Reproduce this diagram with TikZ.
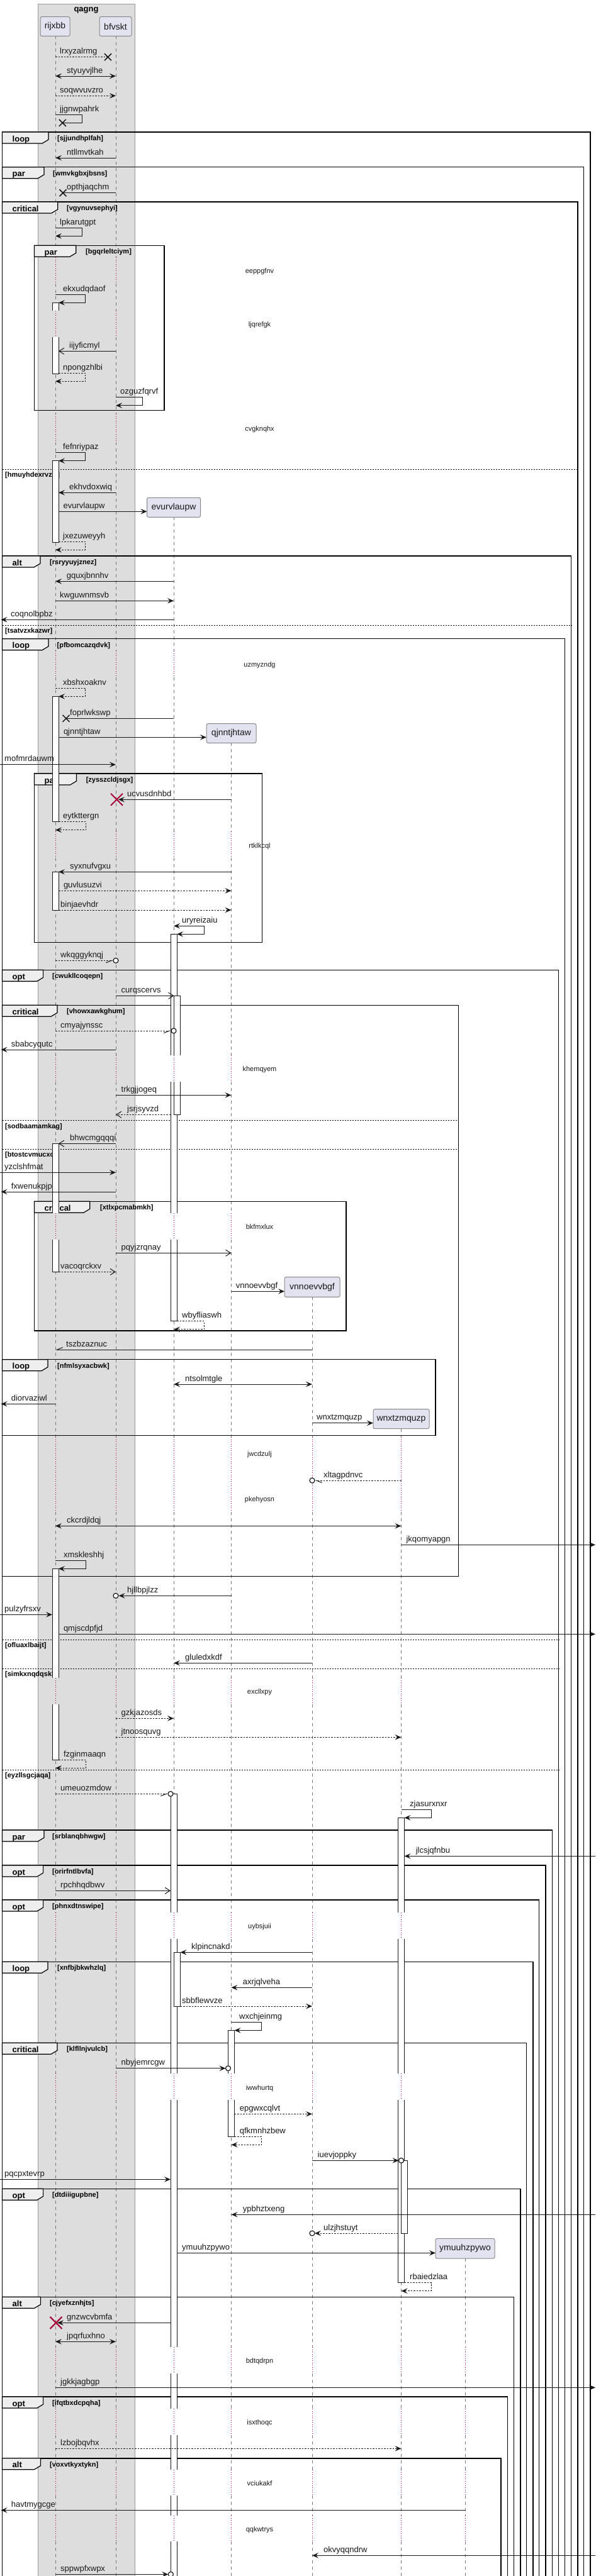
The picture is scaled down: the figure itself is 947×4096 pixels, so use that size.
\documentclass[tikz,border=0pt]{standalone}
\usepackage{fontspec}
\setmainfont{Liberation Sans}
\usetikzlibrary{arrows.meta}
\definecolor{llc}{HTML}{777777}
\definecolor{dred}{HTML}{A80036}
\definecolor{pfill}{HTML}{E2E2F0}
\definecolor{pdraw}{HTML}{888888}
\definecolor{gfill}{HTML}{DDDDDD}
\definecolor{gdraw}{HTML}{999999}
\definecolor{tfill}{HTML}{EEEEEE}
\definecolor{ink}{HTML}{181818}
\newcommand\fsz[1]{\fontsize{#1}{#1}\selectfont}
\newcounter{mc}
\tikzset{
 lifel/.style={draw=llc, line width=0.8pt, dash pattern=on 5pt off 5pt},
 delayl/.style={draw=dred, line width=0.9pt, dash pattern=on 1pt off 2.5pt},
 barbox/.style={draw=ink, fill=white, line width=0.8pt},
 msgl/.style={draw=ink, line width=1pt},
 dsh/.style={dash pattern=on 2.5pt off 2pt},
 fa/.style={-{Stealth[length=10pt,width=8.5pt,inset=4pt]}},
 fb/.style={{Stealth[length=10pt,width=8.5pt,inset=4pt]}-{Stealth[length=10pt,width=8.5pt,inset=4pt]}},
 oa/.style={-{Straight Barb[length=8pt,width=10pt]}},
 hbr/.style={-{Straight Barb[right,length=9pt,width=7pt]}},
 hbl/.style={-{Straight Barb[left,length=9pt,width=7pt]}},
 lbl/.style={font=\fsz{13}, anchor=base west, inner sep=0pt, text=ink},
 dly/.style={font=\fsz{11}, anchor=base, inner sep=0pt, text=ink},
 part/.style={draw=pdraw, fill=pfill, rounded corners=2.5pt, line width=1pt, font=\fsz{14}, text=ink, inner sep=0pt},
 frm/.style={draw=black, line width=1.5pt},
 tabs/.style={draw=black, fill=tfill, line width=1.2pt},
 kindf/.style={font=\bfseries\fsz{13}, anchor=base west, inner sep=0pt},
 condf/.style={font=\bfseries\fsz{11}, anchor=base west, inner sep=0pt},
 elsel/.style={draw=black, line width=1pt, dash pattern=on 2pt off 2pt},
 circ/.style={circle, draw=ink, fill=white, line width=1.2pt, minimum size=8pt, inner sep=0pt},
}
\def\xR{88}\def\xB{184}\def\xE{276}\def\xQ{367.5}\def\xV{496}\def\xW{637.5}\def\xY{739.5}
\def\dlist{409/451, 494/536, 658/703, 1035/1077, 1322/1364, 1678/1720, 1929/1971, 2285/2404, 2668/2710, 3041/3083, 3297/3339, 3732/3774, 3830/3872, 3927/3968, 4000/4041}
\newcommand\LL[2]{%
 \xdef\prevy{#2}%
 \foreach \da/\db in \dlist {%
   \pgfmathtruncatemacro\okk{(\da>\prevy) ? 1 : 0}%
   \ifnum\okk=1
     \draw[lifel] (#1,\prevy) -- (#1,\da);
     \draw[delayl] (#1,\da) -- (#1,\db);
     \xdef\prevy{\db}%
   \fi
 }%
 \draw[lifel] (#1,\prevy) -- (#1,4110);
}
\newcommand\BarF[4]{\filldraw[barbox] (#1,#3) rectangle (#2,#4);}
\newcommand\BarT[4]{\fill[white] (#1,#3) rectangle (#2,#4); \draw[barbox,fill=none] (#1,#4) -- (#1,#3) -- (#2,#3) -- (#2,#4);}
\newcommand\BarB[4]{\fill[white] (#1,#3) rectangle (#2,#4); \draw[barbox,fill=none] (#1,#3) -- (#1,#4) -- (#2,#4) -- (#2,#3);}
\newcommand\BarN[4]{\fill[white] (#1,#3) rectangle (#2,#4); \draw[barbox,fill=none] (#1,#3) -- (#1,#4) (#2,#3) -- (#2,#4);}
\newcommand\Fr[8]{%
 \draw[frm] (#1,#2) rectangle (#3,#4);
 \draw[tabs] (#1,#2) -- (#6,#2) -- (#6,#2+12) -- (#6-10,#2+18) -- (#1,#2+18) -- cycle;
 \stepcounter{mc}%
 \node[kindf] (k\themc) at (#1+16,#2+15) {#5};
 \node[condf] (c\themc) at (#8,#2+13.5) {[#7]};
}
\newcommand\El[4]{\draw[elsel] (#1,#3) -- (#2,#3); \stepcounter{mc}\node[condf] (e\themc) at (#1+4.5,#3+12.5) {[#4]};}
\newcommand\Dl[2]{\stepcounter{mc}\node[dly] (d\themc) at (412.5,#1+4) {#2};}
\newcommand\Xb[2]{\draw[ink, line width=1.5pt] (#1-5.5,#2-5.5) -- (#1+5.5,#2+5.5) (#1-5.5,#2+5.5) -- (#1+5.5,#2-5.5);}
\newcommand\Xr[2]{\draw[dred, line width=2pt] (#1-9.5,#2-9.5) -- (#1+9.5,#2+9.5) (#1-9.5,#2+9.5) -- (#1+9.5,#2-9.5);}
\newcommand\Oc[2]{\stepcounter{mc}\node[circ] (o\themc) at (#1,#2) {};}
\newcommand\Mg[6][]{%
 \stepcounter{mc}%
 \coordinate (p\themc) at (#2,#4);
 \coordinate (q\themc) at (#3,#4);
 \draw[msgl,#1] (p\themc) -- (q\themc);
 \node[lbl] (t\themc) at (#5,#4-5) {#6};
}
\newcommand\Sf[7][]{%
 \stepcounter{mc}%
 \coordinate (p\themc) at (#2,#4);
 \coordinate (r\themc) at (#3,#4);
 \coordinate (s\themc) at (#3,#4+13);
 \coordinate (q\themc) at (#5,#4+13);
 \draw[msgl,#1] (p\themc) -- (r\themc) -- (s\themc) -- (q\themc);
 \node[lbl] (t\themc) at (#6,#4-5) {#7};
}
\begin{document}
\begin{tikzpicture}[x=1pt,y=-1pt]
\useasboundingbox (0,0) rectangle (947,4096);
\clip (0,0) rectangle (947,4096);
\fill[white] (0,0) rectangle (947,4096);
% group box
\filldraw[fill=gfill, draw=gdraw, line width=1pt] (60,6) rectangle (214,4110);
\node[font=\bfseries\fsz{13}, anchor=base, inner sep=0pt] (qagng) at (137,18) {qagng};
% lifelines
\LL{\xR}{57.3}
\LL{\xB}{57.3}
\LL{\xE}{822.3}
\LL{\xQ}{1181.3}
\LL{\xV}{2062.3}
\LL{\xW}{2271.7}
\LL{\xY}{3591}
% participants
\node[part, minimum width=47pt, minimum height=30.6pt] (rijxbb) at (87.5,42) {rijxbb};
\node[part, minimum width=51pt, minimum height=30.6pt] (bfvskt) at (183.5,42) {bfvskt};
\node[part, minimum width=85pt, minimum height=31pt] (evurvlaupw) at (\xE,806.8) {evurvlaupw};
\node[part, minimum width=79pt, minimum height=30.6pt] (qjnntjhtaw) at (\xQ,1166) {qjnntjhtaw};
\node[part, minimum width=88pt, minimum height=31.6pt] (vnnoevvbgf) at (\xV,2046.5) {vnnoevvbgf};
\node[part, minimum width=89pt, minimum height=31pt] (wnxtzmquzp) at (\xW,2256.2) {wnxtzmquzp};
\node[part, minimum width=94pt, minimum height=31.7pt] (ymuuhzpywo) at (739,3575.2) {ymuuhzpywo};
% frames
\Fr{3.5}{210}{938}{4110}{loop}{77}{sjjundhplfah}{91}
\Fr{3.5}{265.7}{927.7}{4110}{par}{70}{wmvkgbxjbsns}{84}
\Fr{3.5}{321}{918}{4110}{critical}{91.7}{vgynuvsephyi}{106}
\Fr{54.5}{390.3}{261}{652.7}{par}{120.7}{bgqrleltciym}{136}
\El{3.5}{918}{746}{hmuyhdexrvzw}
\Fr{3.5}{884}{907.7}{4110}{alt}{64}{rsryyuyjznez}{79}
\El{3.5}{907.7}{994.3}{tsatvzxkazwr}
\Fr{3.5}{1015.7}{897.4}{4110}{loop}{77}{pfbomcazqdvk}{90.5}
\Fr{54.5}{1230}{416.5}{1498.3}{par}{121.4}{zysszcldjsgx}{136.6}
\Fr{3.5}{1542.3}{887.7}{4110}{opt}{68.6}{cwukllcoqepn}{83}
\Fr{3.5}{1598.3}{728.6}{2506.7}{critical}{91}{vhowxawkghum}{106}
\El{3.5}{728.6}{1781.7}{sodbaamamkag}
\El{3.5}{728.6}{1827.3}{btostcvmucxo}
\Fr{54.5}{1910.3}{550}{2116}{critical}{142.7}{xtlxpcmabmkh}{159}
\Fr{3.5}{2161.7}{692}{2282.3}{loop}{76}{nfmlsyxacbwk}{91}
\El{3.5}{887.7}{2607.3}{ofluaxlbaijt}
\El{3.5}{887.7}{2653.3}{simkxnqdqskl}
\El{3.5}{887.7}{2814.3}{eyzllsgcjaqa}
\Fr{3.5}{2910}{877.4}{4110}{par}{70}{srblanqbhwgw}{83}
\Fr{3.5}{2966}{867}{4110}{opt}{68.6}{orirfntlbvfa}{83}
\Fr{3.5}{3021}{856.7}{4110}{opt}{68.6}{phnxdtnswipe}{83}
\Fr{3.5}{3119.3}{847}{4110}{loop}{76}{xnfbjbkwhzlq}{91}
\Fr{3.5}{3248.3}{836.7}{4110}{critical}{91}{klfllnjvulcb}{106}
\Fr{3.5}{3480.3}{827}{4110}{opt}{68.6}{dtdiiigupbne}{83}
\Fr{3.5}{3652.3}{816.6}{4110}{alt}{64.4}{cjyefxznhjts}{79}
\Fr{3.5}{3811}{806.3}{4110}{opt}{68.6}{ifqtbxdcpqha}{83}
\Fr{3.5}{3908.7}{796}{4110}{alt}{64.4}{voxvtkyxtykn}{79}
% delays
\Dl{430}{eeppgfnv}
\Dl{515}{ljqrefgk}
\Dl{681}{cvgknqhx}
\Dl{1056.7}{uzmyzndg}
\Dl{1344.3}{rtklkcql}
\Dl{1699.3}{khemqyem}
\Dl{1950.7}{bkfmxlux}
\Dl{2311}{jwcdzulj}
\Dl{2383.3}{pkehyosn}
\Dl{2689.3}{excllxpy}
\Dl{3062.3}{uybsjuii}
\Dl{3319}{iwwhurtq}
\Dl{3753.3}{bdtqdrpn}
\Dl{3851.7}{isxthoqc}
\Dl{3948.3}{vciukakf}
\Dl{4021.7}{qqkwtrys}
% activation bars
\BarT{83}{93}{481.7}{494}
\BarB{83}{93}{536}{594.3}
\BarF{83}{93}{732.7}{862.3}
\BarF{83}{93}{1107.3}{1306.7}
\BarF{83}{93}{1386.3}{1447}
\BarT{83}{93}{1818.3}{1929}
\BarB{83}{93}{1971}{2022.3}
\BarT{83}{93}{2494.3}{2668}
\BarB{83}{93}{2710}{2798.3}
\BarT{271}{281}{1485.3}{1678}
\BarN{271}{281}{1720}{1929}
\BarB{271}{281}{1971}{2100.7}
\BarT{276.5}{286.5}{1583.3}{1678}
\BarB{276.5}{286.5}{1720}{1772.3}
\BarT{271}{281}{2852.3}{3041}
\BarN{271}{281}{3083}{3297}
\BarN{271}{281}{3339}{3732}
\BarN{271}{281}{3774}{3830}
\BarN{271}{281}{3872}{3927}
\BarN{271}{281}{3968}{4000}
\BarN{271}{281}{4041}{4110}
\BarF{276.5}{286.5}{3104.3}{3190}
\BarT{362.5}{372.5}{3228.3}{3297}
\BarB{362.5}{372.5}{3339}{3397.3}
\BarT{632.5}{642.5}{2890.3}{3041}
\BarN{632.5}{642.5}{3083}{3297}
\BarB{632.5}{642.5}{3339}{3629.7}
\BarF{637.5}{647.5}{3435.3}{3551}
% messages
\Mg[dsh]{\xR}{171.5}{90.7}{95}{lrxyzalrmg}\Xb{171.5}{90.7}
\Mg[fb]{\xR}{\xB}{121}{106}{styuyvjlhe}
\Mg[dsh,fa]{\xR}{\xB}{152.3}{95}{soqwvuvzro}
\Sf{\xR}{130}{182.3}{99.3}{95}{jjgnwpahrk}\Xb{99.3}{195.3}
\Mg[fa]{\xB}{\xR}{251}{106}{ntllmvtkah}
\Mg{\xB}{100}{306.7}{106}{opthjaqchm}\Xb{100}{306.7}
\Sf[fa]{\xR}{130.3}{362.3}{\xR}{95}{lpkarutgpt}
\Sf[fa]{\xR}{135.7}{468.3}{93}{100}{ekxudqdaof}
\Mg[oa]{\xB}{93}{558.3}{110}{iijyficmyl}
\Sf[fa,dsh]{93}{135.7}{593.3}{\xR}{100}{npongzhlbi}
\Sf[fa]{\xB}{226.7}{631.7}{\xB}{191}{ozguzfqrvf}
\Sf[fa]{\xR}{135.4}{719.7}{93}{100}{fefnriypaz}
\Mg[fa]{\xB}{93}{783.3}{110}{ekhvdoxwiq}
\Mg[fa]{93}{233.5}{813.3}{100.5}{evurvlaupw}
\Sf[fa,dsh]{93}{135.4}{861.3}{\xR}{100}{jxezuweyyh}
\Mg[fa]{\xE}{\xR}{924.3}{105.6}{gquxjbnnhv}
\Mg[fa]{\xR}{\xE}{955.3}{95}{kwguwnmsvb}
\Mg[fa]{\xE}{1.5}{985.3}{17}{coqnolbpbz}
\Sf[fa,dsh]{\xR}{135.4}{1094.3}{93}{100}{xbshxoaknv}
\Mg{\xE}{105}{1142.3}{111}{foprlwkswp}\Xb{105}{1142.3}
\Mg[fa]{93}{328}{1172.3}{100.8}{qjnntjhtaw}
\Mg[fa]{0}{\xB}{1215.7}{7}{mofmrdauwm}
\Mg[fa]{\xQ}{188}{1271.3}{202}{ucvusdnhbd}\Xr{185.5}{1271.3}
\Sf[fa,dsh]{93}{136}{1306.7}{\xR}{100}{eytkttergn}
\Mg[fa]{\xQ}{93}{1386.3}{111}{syxnufvgxu}
\Mg[fa,dsh]{93}{\xQ}{1416.3}{100.8}{guvlusuzvi}
\Mg[fa,dsh]{93}{\xQ}{1447}{96}{binjaevhdr}
\Sf[fb]{\xE}{324}{1472.3}{281}{289}{uryreizaiu}
\Mg[dsh,hbr]{\xR}{180}{1527.3}{96}{wkqggyknqj}\Oc{\xB}{1527.3}
\Mg[oa]{\xB}{276.5}{1583.3}{192.5}{curqscervs}
\Mg[dsh,hbr]{\xR}{272}{1639}{96}{cmyajynssc}\Oc{\xE}{1639}
\Mg[fa]{\xB}{1.5}{1669}{17.6}{sbabcyqutc}
\Mg[fa]{\xB}{\xQ}{1741.3}{192.5}{trkgjjogeq}
\Mg[oa,dsh]{271}{\xB}{1772.3}{202}{jsrjsyvzd}
\Mg[oa]{\xB}{93}{1818.3}{111}{bhwcmgqqqi}
\Mg[fa]{0}{\xB}{1864.3}{7}{yzclshfmat}
\Mg[fa]{\xB}{1.5}{1895}{17.6}{fxwenukpjp}
\Mg[oa]{\xB}{\xQ}{1992.3}{192.5}{pqyjzrqnay}
\Mg[oa,dsh]{93}{\xB}{2022.3}{96}{vacoqrckxv}
\Mg[fa]{\xQ}{452}{2053.3}{374.6}{vnnoevvbgf}
\Sf[fa,dsh]{281}{324}{2100.7}{\xE}{289}{wbyfliaswh}
\Mg[hbr]{\xV}{\xR}{2146}{105}{tszbzaznuc}
\Mg[fb]{\xE}{\xV}{2201}{294}{ntsolmtgle}
\Mg[fa]{\xR}{1.5}{2232.3}{17.6}{diorvaziwl}
\Mg[fa]{\xV}{593}{2262.7}{503}{wnxtzmquzp}
\Mg[dsh,hbl]{\xW}{500}{2354}{514}{xltagpdnvc}\Oc{\xV}{2354}
\Mg[fb]{\xR}{\xW}{2426.3}{106}{ckcrdjldqj}
\Mg[fa]{\xW}{946}{2456.3}{645.4}{jkqomyapgn}
\Sf[fa]{\xR}{136}{2481.3}{93}{100.8}{xmskleshhj}
\Mg[fa]{\xQ}{188.6}{2537.3}{202}{hjllbpjlzz}\Oc{\xB}{2537.3}
\Mg[fa]{0}{83}{2567.3}{7}{pulzyfrsxv}
\Mg[fa]{93}{946}{2598.3}{100.8}{qmjscdpfjd}
\Mg[fa]{\xV}{\xE}{2644.3}{294}{gluledxkdf}
\Mg[fa,dsh]{\xB}{\xE}{2732.3}{192.5}{gzkjazosds}
\Mg[fa,dsh]{\xB}{\xW}{2762.3}{192.5}{jtnoosquvg}
\Sf[fa,dsh]{93}{136}{2798.3}{\xR}{100.8}{fzginmaaqn}
\Mg[dsh,hbr]{\xR}{267}{2852.3}{96}{umeuozmdow}\Oc{271}{2852.3}
\Sf[fa]{\xW}{685}{2877.3}{642.5}{651}{zjasurxnxr}
\Mg[fa]{946}{642.5}{2951.3}{660.6}{jlcsjqfnbu}
\Mg[oa]{\xR}{271}{3006.3}{96}{rpchhqdbwv}
\Mg[fa]{\xV}{286.5}{3104.3}{304}{klpincnakd}
\Mg[fa]{\xV}{\xQ}{3160.3}{385.6}{axrjqlveha}
\Mg[fa,dsh]{286.5}{\xV}{3190}{289}{sbbflewvze}
\Sf[fa]{\xQ}{415.3}{3215.3}{372.5}{380}{wxchjeinmg}
\Mg[fa]{\xB}{358.5}{3288.7}{192.5}{nbyjemrcgw}\Oc{362.5}{3288.7}
\Mg[fa,dsh]{372.5}{\xV}{3361.3}{380.7}{epgwxcqlvt}
\Sf[fa,dsh]{372.5}{415.3}{3397.3}{\xQ}{380.7}{qfkmnhzbew}
\Mg[fa]{\xV}{633.5}{3435.3}{504.5}{iuevjoppky}\Oc{\xW}{3435.3}
\Mg[fa]{0}{271}{3465.3}{7}{pqcpxtevrp}
\Mg[fa]{946}{\xQ}{3521.3}{385.6}{ypbhztxeng}
\Mg[fa,dsh]{632.5}{500}{3551}{514}{ulzjhstuyt}\Oc{\xV}{3551}
\Mg[fa]{281}{692}{3582.3}{289}{ymuuhzpywo}
\Sf[fa,dsh]{642.5}{685}{3629.7}{\xW}{651}{rbaiedzlaa}
\Mg[fa]{271}{91}{3693.3}{106}{gnzwcvbmfa}\Xr{89}{3693.3}
\Mg[fb]{\xR}{\xB}{3723.3}{106}{jpqrfuxhno}
\Mg[fa]{\xR}{946}{3796.3}{96}{jgkkjagbgp}
\Mg[fa,dsh]{\xR}{\xW}{3893.3}{96}{lzbojbqvhx}
\Mg[fa]{\xY}{1.5}{3991.3}{17.6}{havtmygcge}
\Mg[fa]{946}{\xV}{4063.3}{514}{okvyqqndrw}
\Mg[fa]{\xR}{267.4}{4093.3}{96}{sppwpfxwpx}\Oc{271.4}{4093.3}
\end{tikzpicture}
\end{document}
